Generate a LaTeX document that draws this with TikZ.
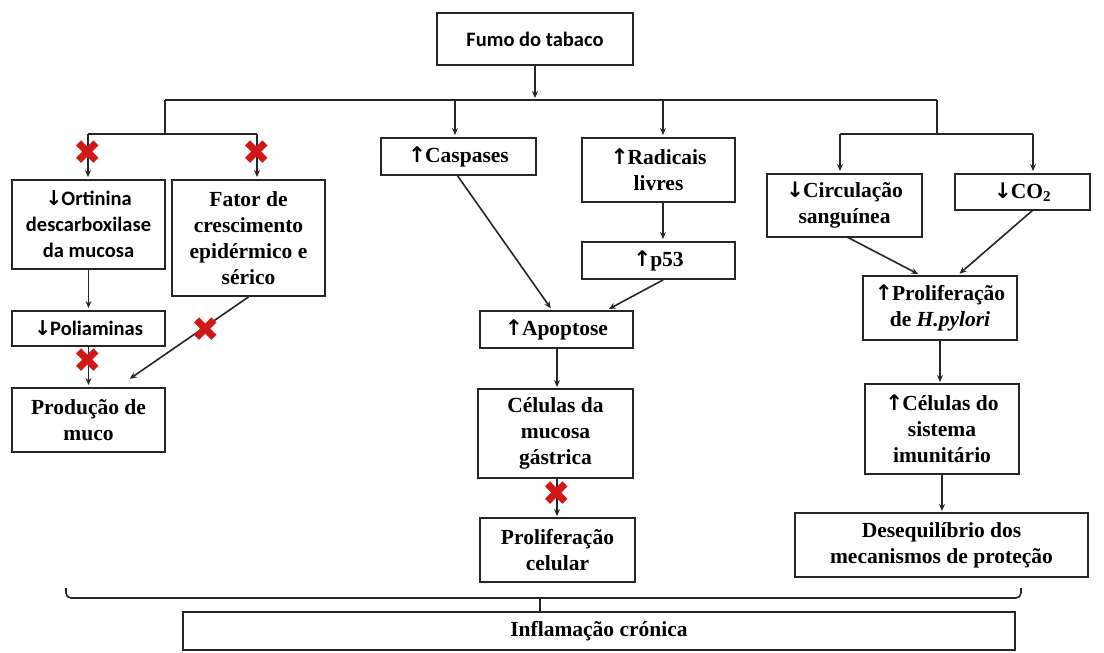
\documentclass[tikz,border=0pt]{standalone}
\usepackage{fontspec}
\setmainfont{Liberation Serif}
\newfontfamily\calib{Carlito}
\newfontfamily\symb{DejaVu Sans}
\usetikzlibrary{arrows.meta}
\newcommand\arrup{{\symb\bfseries ↑}\kern-1pt}
\newcommand\arrdn{{\symb\bfseries ↓}\kern-1pt}
\definecolor{xred}{HTML}{D01818}
\tikzset{
  box/.style={draw=black!85, line width=1.9pt, fill=white, align=center,
    inner sep=1pt, font=\fontsize{21.5}{26}\selectfont\bfseries},
  sbox/.style={box, font=\calib\fontsize{20.5}{26}\selectfont\bfseries},
  link/.style={draw=black!85, line width=1.6pt},
  arr/.style={link, -{Stealth[length=7pt,width=6pt]}, shorten >=2pt},
  xmark/.style={text=xred, font=\symb\fontsize{34}{34}\selectfont, inner sep=0pt}
}
\begin{document}
\begin{tikzpicture}[x=1pt,y=-1pt]
\useasboundingbox (0,0) rectangle (1104,653);

% boxes
\node[sbox, minimum width=196pt, minimum height=52pt] (fumo) at (535,39) {Fumo do tabaco};
\node[sbox, minimum width=153pt, minimum height=89pt] (ort) at (88.5,224.5) {\arrdn Ortinina\\descarboxilase\\da mucosa};
\node[box, minimum width=153pt, minimum height=116pt] (fator) at (248.5,238) {Fator de\\crescimento\\epidérmico e\\sérico};
\node[sbox, minimum width=153pt, minimum height=35pt] (poli) at (88.5,328.5) {\arrdn Poliaminas};
\node[box, minimum width=153pt, minimum height=64pt] (prod) at (88.5,420) {Produção de\\muco};
\node[box, minimum width=155pt, minimum height=37pt] (casp) at (458.5,156.5) {\arrup Caspases};
\node[box, minimum width=153pt, minimum height=64pt] (rad) at (658.5,170) {\arrup Radicais\\livres};
\node[box, minimum width=153pt, minimum height=37pt] (p53) at (658.5,260.5) {\arrup p53};
\node[box, minimum width=153pt, minimum height=37pt] (apop) at (556.5,329.5) {\arrup Apoptose};
\node[box, minimum width=155pt, minimum height=89pt] (cel) at (555.5,433.5) {Células da\\mucosa\\gástrica};
\node[box, minimum width=155pt, minimum height=64pt] (prolc) at (557.5,550) {Proliferação\\celular};
\node[box, minimum width=155pt, minimum height=63pt] (circ) at (844.5,205.5) {\arrdn Circulação\\sanguínea};
\node[box, minimum width=135pt, minimum height=36pt] (co2) at (1022.5,192) {\arrdn CO\textsubscript{2}};
\node[box, minimum width=154pt, minimum height=64pt] (prolh) at (940,308) {\arrup Proliferação\\de \textit{H.pylori}};
\node[box, minimum width=154pt, minimum height=90pt] (celsis) at (942,429) {\arrup Células do\\sistema\\imunitário};
\node[box, minimum width=293pt, minimum height=64pt] (deseq) at (941.5,545) {Desequilíbrio dos\\mecanismos de proteção};
\node[box, minimum width=832pt, minimum height=38pt] (infl) at (599,631) {Inflamação crónica};

% junctions of the distribution lines
\coordinate (bus) at (535,100);
\coordinate (busL) at (165,100);
\coordinate (busR) at (937,100);
\coordinate (busC) at (455,100);
\coordinate (busD) at (663,100);
\coordinate (subL) at (165,134);
\coordinate (subLa) at (88,134);
\coordinate (subLb) at (257,134);
\coordinate (subR) at (937,134);
\coordinate (subRa) at (840,134);
\coordinate (subRb) at (1033,134);

% distribution from the source
\draw[arr] (fumo.south) -- (bus);
\draw[link] (busL) -- (busR);
\draw[link] (busL) -- (subL);
\draw[link] (subLa) -- (subLb);
\draw[arr] (subLa) -- (subLa |- ort.north);
\draw[arr] (subLb) -- (subLb |- fator.north);
\draw[arr] (busC) -- (busC |- casp.north);
\draw[arr] (busD) -- (busD |- rad.north);
\draw[link] (busR) -- (subR);
\draw[link] (subRa) -- (subRb);
\draw[arr] (subRa) -- (subRa |- circ.north);
\draw[arr] (subRb) -- (subRb |- co2.north);

% left column
\draw[arr] (ort.south) -- (poli.north);
\draw[arr] (poli.south) -- (prod.north);
\draw[arr] (fator.south) -- (128,380);

% middle column
\draw[arr] (457,175) -- (552,310);
\draw[arr] (busD |- p53.south) -- (607,310);
\draw[arr] (rad.south -| busD) -- (busD |- p53.north);
\draw[arr] (557,348) -- (557,389);
\draw[arr] (557,478) -- (557,518);

% right column
\draw[arr] (847,237) -- (920,275);
\draw[arr] (1033,210) -- (958,275);
\draw[arr] (940,340) -- (940,384);
\draw[arr] (942,474) -- (942,513);

% blocked steps
\node[xmark] (xa) at (88,153) {✖};
\node[xmark] (xb) at (257,153) {✖};
\node[xmark] (xc) at (88,361) {✖};
\node[xmark] (xd) at (206,330) {✖};
\node[xmark] (xe) at (557,494) {✖};

% bracket gathering everything into the final box
\coordinate (brL) at (66,588);
\coordinate (brR) at (1021,588);
\coordinate (brM) at (540,598);
\draw[link, rounded corners=5pt] (brL) -- (66,598) -- (1021,598) -- (brR);
\draw[link] (brM) -- (brM |- infl.north);
\end{tikzpicture}
\end{document}
